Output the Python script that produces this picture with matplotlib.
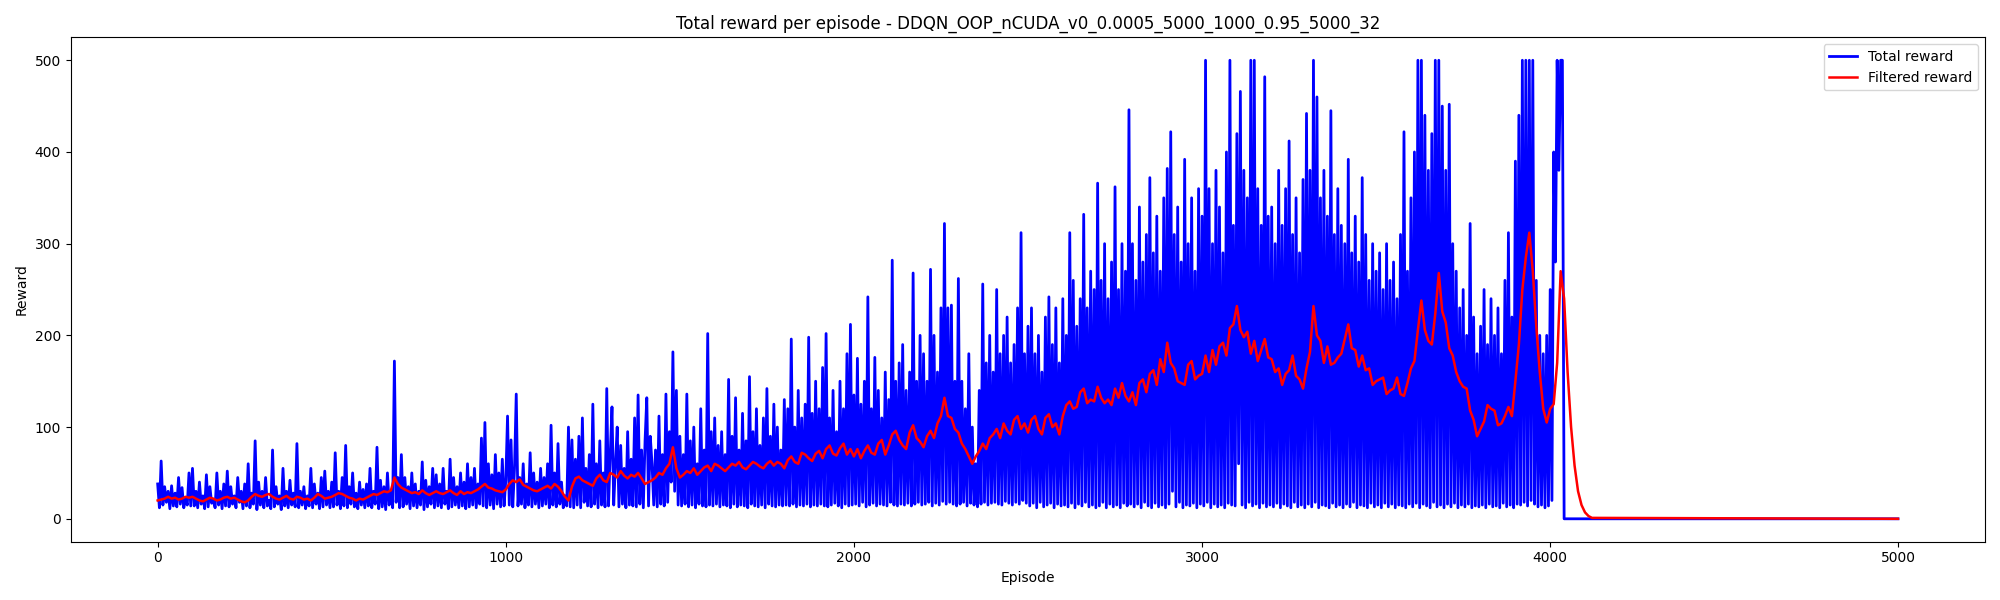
import numpy as np
import matplotlib
matplotlib.use('Agg')
import matplotlib.pyplot as plt

run_name = 'DDQN_OOP_nCUDA_v0_0.0005_5000_1000_0.95_5000_32'

# total reward, one value every 5 episodes, episodes 0-4039
reward_step = 5
total_reward = [
    38, 12, 63, 15, 35, 18, 30, 11, 36, 14, 28, 13, 45, 16, 34, 12, 22, 15, 50, 14,
    55, 14, 30, 12, 40, 16, 25, 11, 48, 13, 35, 17, 20, 12, 50, 15, 30, 11, 38, 14,
    52, 13, 35, 16, 25, 12, 45, 18, 30, 11, 38, 14, 60, 12, 28, 16, 85, 10, 40, 15,
    30, 12, 45, 14, 20, 11, 75, 13, 35, 16, 25, 10, 55, 14, 30, 12, 42, 15, 28, 13,
    82, 12, 30, 15, 35, 11, 25, 14, 55, 12, 38, 16, 28, 11, 45, 13, 52, 15, 30, 12,
    40, 13, 72, 15, 30, 11, 45, 14, 80, 12, 35, 16, 50, 13, 28, 11, 40, 15, 32, 12,
    38, 14, 55, 12, 30, 16, 78, 11, 42, 13, 35, 10, 50, 15, 30, 12, 172, 18, 45, 12,
    70, 13, 45, 16, 35, 11, 50, 14, 38, 12, 30, 15, 62, 10, 42, 13, 35, 16, 55, 12,
    48, 14, 38, 12, 55, 16, 30, 11, 65, 13, 45, 15, 35, 12, 50, 14, 40, 11, 60, 13,
    45, 15, 55, 12, 38, 16, 88, 14, 105, 12, 60, 15, 48, 11, 70, 16, 50, 13, 65, 14,
    42, 112, 15, 86, 13, 55, 136, 14, 45, 16, 60, 12, 38, 15, 72, 13, 50, 16, 40, 12,
    55, 14, 45, 16, 60, 12, 102, 15, 50, 13, 82, 16, 40, 12, 25, 14, 100, 13, 86, 12,
    65, 15, 90, 12, 110, 18, 55, 14, 70, 13, 125, 16, 60, 12, 85, 15, 50, 13, 142, 14,
    70, 122, 15, 60, 100, 13, 80, 16, 55, 12, 95, 15, 65, 14, 110, 13, 135, 16, 75, 12,
    85, 132, 14, 90, 60, 15, 75, 13, 112, 16, 70, 14, 136, 18, 95, 40, 182, 30, 140, 15,
    90, 14, 70, 16, 136, 13, 85, 15, 100, 12, 60, 16, 120, 14, 75, 13, 202, 15, 95, 14,
    110, 16, 80, 13, 95, 15, 70, 14, 152, 12, 90, 16, 132, 13, 75, 15, 115, 14, 85, 12,
    155, 16, 95, 14, 120, 13, 80, 15, 110, 12, 142, 16, 90, 14, 125, 13, 100, 15, 75, 14,
    130, 15, 120, 14, 196, 16, 100, 13, 140, 15, 110, 14, 125, 16, 198, 13, 115, 15, 150, 14,
    120, 16, 165, 14, 202, 13, 110, 15, 140, 17, 95, 14, 150, 12, 120, 16, 180, 14, 212, 15,
    135, 16, 175, 14, 125, 18, 150, 13, 242, 15, 120, 17, 176, 14, 140, 16, 110, 15, 160, 14,
    130, 18, 282, 15, 150, 14, 170, 16, 190, 15, 140, 17, 160, 14, 268, 16, 150, 18, 200, 15,
    180, 16, 150, 18, 272, 14, 200, 17, 160, 15, 230, 19, 322, 16, 230, 18, 233, 16, 150, 14,
    262, 16, 150, 18, 120, 14, 180, 17, 100, 15, 60, 13, 140, 16, 256, 18, 170, 15, 200, 17,
    160, 18, 250, 16, 180, 15, 200, 19, 220, 17, 170, 15, 190, 18, 230, 16, 312, 20, 180, 17,
    210, 14, 230, 17, 180, 12, 200, 18, 160, 13, 220, 15, 242, 17, 190, 12, 230, 16, 170, 14,
    240, 15, 200, 13, 312, 17, 260, 12, 210, 16, 240, 14, 332, 18, 230, 13, 270, 15, 250, 12,
    366, 14, 260, 18, 300, 12, 240, 16, 280, 13, 362, 15, 250, 12, 300, 17, 270, 14, 446, 16,
    300, 13, 260, 16, 340, 12, 280, 18, 310, 14, 372, 12, 290, 17, 330, 13, 270, 15, 350, 12,
    382, 16, 422, 30, 310, 13, 340, 18, 280, 12, 392, 15, 300, 14, 350, 17, 270, 12, 360, 16,
    330, 14, 500, 18, 360, 12, 300, 16, 380, 13, 340, 15, 290, 12, 400, 17, 500, 15, 320, 14,
    420, 60, 466, 15, 380, 12, 350, 18, 500, 14, 500, 16, 360, 12, 320, 17, 482, 13, 330, 15,
    340, 13, 300, 17, 380, 12, 320, 16, 360, 14, 412, 12, 310, 18, 350, 13, 290, 15, 370, 12,
    442, 16, 380, 13, 500, 18, 460, 12, 350, 15, 380, 14, 330, 12, 445, 17, 310, 13, 360, 15,
    320, 12, 300, 16, 392, 13, 290, 18, 330, 12, 280, 15, 372, 14, 310, 12, 260, 17, 300, 13,
    270, 15, 290, 12, 250, 17, 300, 13, 260, 16, 280, 12, 240, 15, 310, 14, 422, 12, 270, 16,
    350, 13, 400, 17, 500, 12, 500, 16, 440, 14, 380, 12, 420, 18, 500, 13, 500, 15, 450, 12,
    380, 16, 452, 13, 300, 17, 270, 12, 230, 15, 250, 13, 200, 16, 322, 12, 220, 14, 180, 13,
    210, 15, 250, 12, 190, 16, 240, 13, 200, 14, 230, 12, 180, 17, 260, 13, 312, 15, 220, 12,
    390, 16, 440, 15, 500, 18, 500, 14, 500, 20, 500, 16, 260, 13, 200, 15, 180, 12, 200, 14,
    250, 20, 400, 280, 500, 380, 500, 500,
]
# after episode 4040 the reward stays at 0
zero_episodes = [4040, 4999]
zero_reward = [0, 0]

# filtered reward, one value every 10 episodes, episodes 0-4039
filter_step = 10
filtered_reward = [
    20, 21, 22, 24, 22, 23, 21, 22, 24, 23,
    24, 22, 20, 19, 21, 23, 22, 20, 21, 23,
    24, 22, 23, 21, 19, 18, 20, 24, 27, 25,
    24, 26, 27, 24, 22, 21, 23, 25, 22, 21,
    24, 23, 21, 22, 20, 23, 27, 25, 22, 23,
    24, 26, 28, 27, 25, 23, 22, 20, 22, 21,
    23, 25, 27, 26, 28, 30, 29, 31, 45, 38,
    34, 32, 30, 28, 29, 27, 31, 28, 26, 28,
    30, 28, 27, 29, 31, 28, 26, 30, 27, 29,
    28, 30, 32, 35, 38, 34, 33, 31, 30, 29,
    32, 38, 42, 40, 43, 37, 35, 33, 31, 30,
    32, 34, 36, 33, 38, 35, 30, 24, 20, 35,
    44, 46, 42, 40, 38, 36, 44, 48, 42, 40,
    50, 48, 45, 52, 47, 44, 48, 46, 50, 44,
    38, 40, 42, 45, 50, 48, 55, 60, 78, 55,
    45, 48, 52, 50, 55, 48, 52, 56, 58, 52,
    60, 58, 55, 52, 56, 60, 58, 62, 56, 54,
    58, 62, 60, 57, 55, 60, 63, 58, 62, 60,
    55, 64, 68, 62, 60, 72, 70, 66, 63, 71,
    74, 66, 76, 80, 71, 69, 77, 82, 70, 76,
    68, 76, 66, 74, 80, 72, 70, 82, 86, 70,
    80, 92, 96, 86, 80, 76, 94, 102, 88, 84,
    78, 90, 96, 88, 104, 112, 132, 112, 110, 98,
    94, 82, 76, 68, 60, 68, 74, 82, 76, 88,
    92, 98, 88, 104, 96, 92, 108, 112, 98, 104,
    94, 108, 112, 98, 92, 110, 114, 100, 104, 92,
    112, 124, 128, 120, 122, 138, 142, 126, 130, 128,
    144, 132, 126, 130, 124, 142, 132, 148, 134, 128,
    138, 124, 148, 152, 138, 158, 162, 146, 174, 160,
    192, 170, 164, 150, 148, 146, 168, 172, 152, 156,
    158, 178, 160, 184, 168, 188, 192, 178, 208, 212,
    232, 206, 198, 204, 180, 194, 172, 184, 196, 176,
    174, 160, 164, 146, 158, 162, 178, 156, 152, 142,
    164, 182, 232, 200, 194, 170, 188, 168, 170, 176,
    180, 196, 212, 186, 184, 166, 178, 162, 164, 146,
    150, 152, 154, 136, 140, 142, 154, 136, 134, 148,
    164, 172, 206, 238, 206, 194, 190, 224, 268, 226,
    214, 186, 178, 160, 150, 144, 142, 118, 108, 90,
    98, 106, 124, 120, 118, 102, 104, 112, 122, 112,
    150, 190, 250, 285, 312, 270, 210, 160, 120, 105,
    120, 125, 170, 270,
]
# decay of the filter once the reward drops to zero
tail_episodes = [4040, 4050, 4060, 4070, 4080, 4090, 4100, 4110, 4120, 4999]
tail_filtered = [240, 160, 100, 58, 30, 15, 7, 3, 1, 0]

x_reward = np.concatenate([np.arange(len(total_reward)) * reward_step, zero_episodes])
y_reward = np.concatenate([total_reward, zero_reward])
x_filt = np.concatenate([np.arange(len(filtered_reward)) * filter_step, tail_episodes])
y_filt = np.concatenate([filtered_reward, tail_filtered])

fig = plt.figure(figsize=(20, 6), dpi=100)
plt.plot(x_reward, y_reward, 'b', linewidth=2.0, label='Total reward')
plt.plot(x_filt, y_filt, 'r', linewidth=1.8, label='Filtered reward')
plt.title('Total reward per episode - ' + run_name)
plt.xlabel('Episode')
plt.ylabel('Reward')
plt.legend(loc='upper right')
plt.tight_layout()
fig.savefig('out.png')
